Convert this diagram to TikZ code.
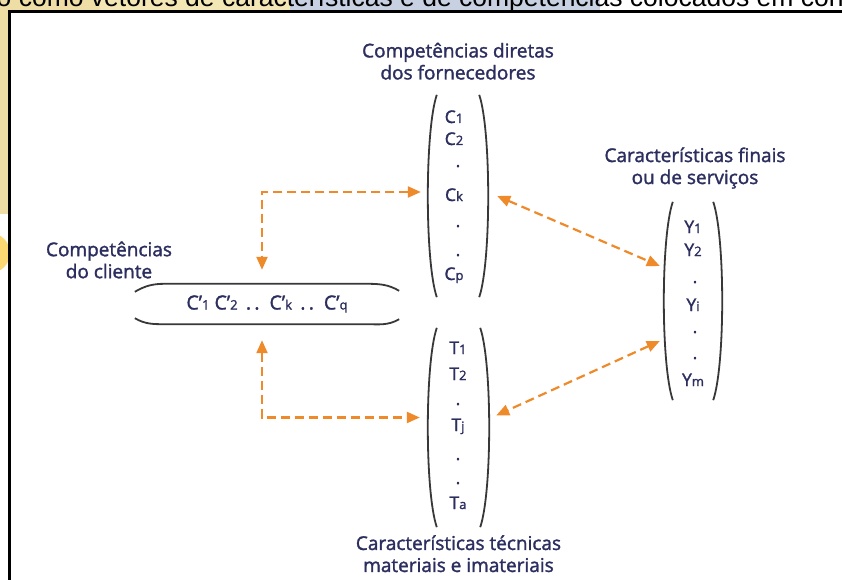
\documentclass[tikz,border=0pt]{standalone}
\usepackage{fontspec}
\setmainfont{Open Sans}
\newfontfamily\semi{Open Sans}[FakeBold=1.6]
\newfontfamily\capfont{Liberation Sans}
\usetikzlibrary{arrows.meta,positioning,calc}

\definecolor{ink}{HTML}{2B2E5E}
\definecolor{lnk}{HTML}{EE8A2A}
\definecolor{tan}{HTML}{EEDEA6}
\definecolor{pale}{HTML}{F4E7B6}
\definecolor{haze}{HTML}{C8D1E2}
\definecolor{sun}{HTML}{FBD872}
\newcommand{\ix}[1]{{\fontsize{13}{13}\selectfont #1}}

\begin{document}
\begin{tikzpicture}[x=1pt, y=-1pt,
    lbl/.style={text=ink, align=center, inner sep=0, font=\semi\fontsize{19}{22}\selectfont},
    ent/.style={text=ink, inner sep=0, text height=12pt, text depth=0pt, font=\semi\fontsize{17.5}{17.5}\selectfont},
    dot/.style={text=ink, inner sep=0, anchor=base, font=\semi\fontsize{17.5}{17.5}\selectfont},
    vec/.style={minimum width=42pt, inner sep=0},
    paren/.style={draw=black!78, line width=1.8pt},
    link/.style={lnk, line width=2.2pt, dash pattern=on 9pt off 5pt,
      {Triangle[length=13pt,width=11pt]}-{Triangle[length=13pt,width=11pt]}}
  ]
    \useasboundingbox (0,0) rectangle (842,580);
    \clip (0,0) rectangle (842,580);
    % slide behind the figure
    \fill[tan] (0,0) rectangle (100,12);
    \fill[pale] (100,0) rectangle (290,12);
    \fill[haze] (290,0) rectangle (600,12);
    \fill[tan] (0,0) rectangle (9,214);
    \fill[sun] (-10,253) circle (20);
    \node[font=\capfont\fontsize{26.5}{26.5}\selectfont, anchor=base west, inner sep=0] (cap)
      at (-3.5,6.5) {o como vetores de características e de competências colocados em con};
    \draw[line width=3pt, fill=white] (9.5,11.5) rectangle (900,650);

    % vectors
    \node[vec, minimum height=202pt] (cvec) at (458,196) {};
    \node[vec, minimum width=43pt, minimum height=199pt] (tvec) at (458.5,427.5) {};
    \node[vec, minimum width=40pt, minimum height=198pt] (yvec) at (693,301) {};
    \foreach \v in {cvec,tvec,yvec} {
      \draw[paren] (\v.north west) .. controls +(-12,35) and +(-12,-35) .. (\v.south west);
      \draw[paren] (\v.north east) .. controls +(12,35) and +(12,-35) .. (\v.south east);
    }
    \node[vec, minimum width=264pt, minimum height=40pt, text=ink,
      font=\semi\fontsize{19.5}{19.5}\selectfont] (cli) at (267,304)
      {C’\ix1\ C’\ix2 \,.\,.\, C’\ix{k} \,.\,.\, C’\ix{q}};
    \draw[paren] ([yshift=-8pt]cli.north west) to[out=30,in=180] ([xshift=30pt]cli.north west)
      -- ([xshift=-34pt]cli.north east) to[out=0,in=150] ([yshift=-7pt]cli.north east);
    \draw[paren] ([yshift=6pt]cli.south west) to[out=-30,in=180] ([xshift=30pt]cli.south west)
      -- ([xshift=-34pt]cli.south east) to[out=0,in=-150] ([yshift=5pt]cli.south east);

    % entries
    \node[ent] (c1) at (454,117) {C\ix1};
    \node[ent] (c2) at (454,139) {C\ix2};
    \node[dot] (cd1) at (458,167) {.};
    \node[ent] (ck) at (454,195) {C\ix{k}};
    \node[dot] (cd2) at (458,227) {.};
    \node[dot] (cd3) at (458,256) {.};
    \node[ent] (cp) at (454,274) {C\ix{p}};

    \node[ent] (t1) at (458,348) {T\ix1};
    \node[ent] (t2) at (458,374) {T\ix2};
    \node[dot] (td1) at (458,405) {.};
    \node[ent] (tj) at (458,425) {T\ix{j}};
    \node[dot] (td2) at (458,460) {.};
    \node[dot] (td3) at (458,484) {.};
    \node[ent] (ta) at (458,503) {T\ix{a}};

    \node[ent] (y1) at (693,227) {Y\ix1};
    \node[ent] (y2) at (693,250) {Y\ix2};
    \node[dot] (yd1) at (695,283) {.};
    \node[ent] (yi) at (693,305) {Y\ix{i}};
    \node[dot] (yd2) at (695,333) {.};
    \node[dot] (yd3) at (695,359) {.};
    \node[ent] (ym) at (693,380) {Y\ix{m}};

    % labels
    \node[lbl, above=15pt of cvec] (clbl) {Competências diretas\\dos fornecedores};
    \node[lbl, below=8pt of tvec] (tlbl) {Características técnicas\\materiais e imateriais};
    \node[lbl, above=13pt of yvec, xshift=2pt] (ylbl) {Características finais\\ou de serviços};
    \node[lbl] (clilbl) at (109,260) {Competências\\do cliente};

    % links
    \draw[link] ([xshift=-16pt,yshift=4pt]cvec.west) -| ([xshift=-5pt,yshift=14pt]cli.north);
    \draw[link] ([xshift=-5pt,yshift=-16pt]cli.south) |- ([xshift=-17pt,yshift=10pt]tvec.west);
    \draw[link] ([xshift=18pt]cvec.east) -- ([xshift=-13pt,yshift=35pt]yvec.west);
    \draw[link] ([xshift=-13pt,yshift=-40pt]yvec.west) -- ([xshift=16pt,yshift=12pt]tvec.east);
\end{tikzpicture}
\end{document}
